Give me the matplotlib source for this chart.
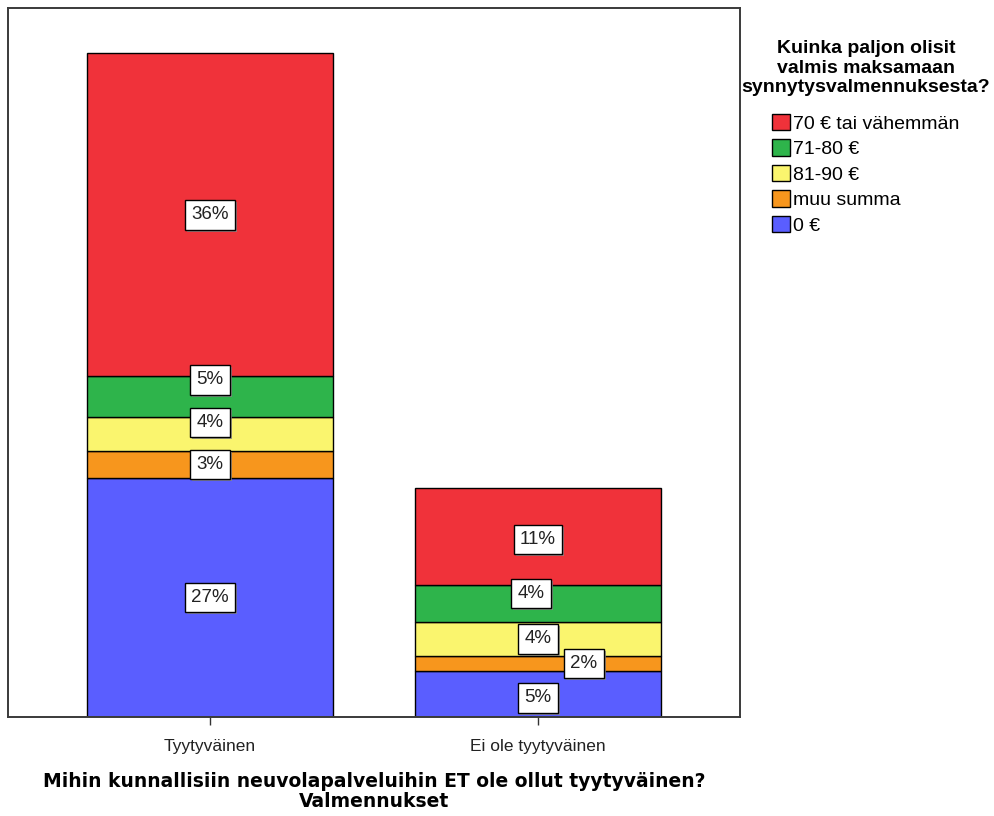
import matplotlib
matplotlib.use("Agg")
import matplotlib.pyplot as plt
import matplotlib.patheffects as pe
import numpy as np

plt.rcParams['font.family'] = ['Liberation Sans', 'DejaVu Sans']

# data: percent of all respondents
groups = ['Tyytyväinen', 'Ei ole tyytyväinen']
categories = ['0 €', 'muu summa', '81-90 €', '71-80 €', '70 € tai vähemmän']
pct_0 = [26.8, 5.2]
pct_muu = [3.0, 1.6]
pct_81_90 = [3.8, 3.9]
pct_71_80 = [4.6, 4.1]
pct_70 = [36.2, 10.9]

series = [pct_0, pct_muu, pct_81_90, pct_71_80, pct_70]
colors = ['#5a5eff', '#f7961d', '#faf56e', '#2eb44b', '#f0323a']

legend_title = 'Kuinka paljon olisit\nvalmis maksamaan\nsynnytysvalmennuksesta?'
xlabel = 'Mihin kunnallisiin neuvolapalveluihin ET ole ollut tyytyväinen?\nValmennukset'

# label nudges in pixels (dx, dy), keyed by (group index, series index)
nudge = {(0, 3): (0, 17), (0, 2): (0, 12), (1, 3): (-7, 10), (1, 1): (46, 0),
         (1, 0): (0, -4), (1, 4): (0, -3)}

W, H = 994, 816
fig = plt.figure(figsize=(W / 100, H / 100), dpi=100)
ax = fig.add_axes([8 / W, 99 / H, 732 / W, 709 / H])

x = np.arange(len(groups))
bottom = np.zeros(len(groups))
handles = []
for si, (vals, col) in enumerate(zip(series, colors)):
    vals = np.array(vals)
    bars = ax.bar(x, vals, 0.75, bottom=bottom, color=col, edgecolor='black',
                  linewidth=1.0, label=categories[si])
    handles.append(bars)
    for gi in range(len(groups)):
        dx, dy = nudge.get((gi, si), (0, 0))
        t = ax.annotate(f'{vals[gi]:.0f}%', (x[gi], bottom[gi] + vals[gi] / 2),
                        xytext=(dx * 0.72, dy * 0.72), textcoords='offset points',
                        ha='center', va='center', fontsize=13.5, color='#222222',
                        bbox=dict(boxstyle='square,pad=0.33', fc='white',
                                  ec='black', lw=1.0))
        t.get_bbox_patch().set_path_effects([
            pe.SimplePatchShadow(offset=(1.5, -1.5), shadow_rgbFace='#888888', alpha=0.8),
            pe.Normal()])
    bottom += vals

ax.set_xlim(-0.616, 1.616)
ax.set_ylim(0, 79.5)
ax.set_yticks([])
ax.set_xticks(x)
ax.set_xticklabels(groups, fontsize=12.5, color='#222222')
ax.tick_params(axis='x', length=6, width=1, color='#333333', pad=10)
for s in ax.spines.values():
    s.set_color('#3a3a3a')
    s.set_linewidth(1.4)

ax.set_xlabel(xlabel, fontsize=13.5, fontweight='bold', family=['DejaVu Sans'],
              labelpad=13, linespacing=1.05)

# legend title and entries
fig.text(866 / W, 1 - 40 / H, legend_title, ha='center', va='top',
         fontsize=14, fontweight='bold', linespacing=1.2)
leg = fig.legend(handles[::-1], categories[::-1], loc='upper center',
                 bbox_to_anchor=(866 / W, 1 - 104 / H), frameon=False,
                 fontsize=14, borderpad=0,
                 handlelength=0.93, handleheight=0.93, handletextpad=0.15,
                 labelspacing=0.34)

fig.savefig('out.png', dpi=100)
